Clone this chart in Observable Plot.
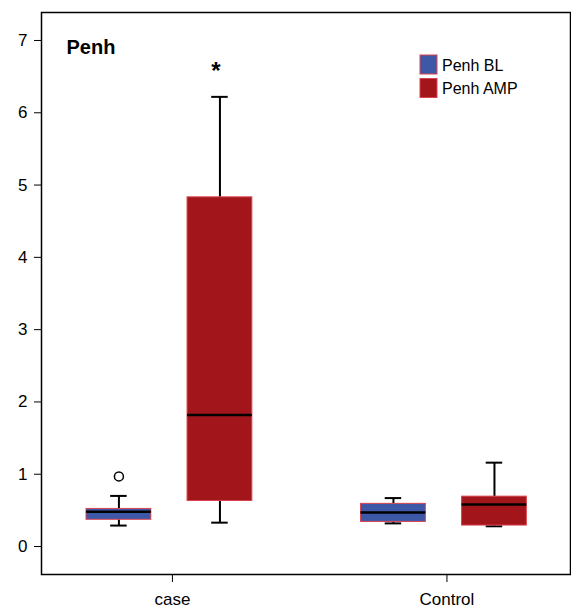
<!DOCTYPE html>
<html>
<head>
<meta charset="utf-8">
<script src="https://cdn.jsdelivr.net/npm/d3@7"></script>
<script src="https://cdn.jsdelivr.net/npm/@observablehq/plot@0.6"></script>
<style>
  body { margin: 0; background: #fff; }
  #chart { position: relative; width: 571px; height: 610px; }
</style>
</head>
<body>
<div id="chart"></div>
<script>
// ---- data ----
const groups = ["case", "Control"];
const series = ["Penh BL", "Penh AMP"];
const colors = ["#3e58a8", "#a2161b"];
// per group, per series: [whiskerLow, q1, median, q3, whiskerHigh]
const caseBL      = [0.29, 0.37, 0.48, 0.52, 0.70];
const caseAMP     = [0.33, 0.63, 1.82, 4.83, 6.22];
const controlBL   = [0.32, 0.34, 0.47, 0.59, 0.67];
const controlAMP  = [0.28, 0.29, 0.58, 0.69, 1.16];
const outliers = [{group: "case", series: "Penh BL", value: 0.97}];
const marks = [{group: "case", series: "Penh AMP", label: "*"}];
const yTicks = [0, 1, 2, 3, 4, 5, 6, 7];

const stats = [
  [caseBL, caseAMP],
  [controlBL, controlAMP]
];
const dodge = 0.368, halfW = 0.118, capW = 0.03;
const pos = (g, s) => groups.indexOf(g) + 1 + (series.indexOf(s) - 0.5) * dodge;

const rows = [];
groups.forEach((g, gi) => series.forEach((s, si) => {
  const [lo, q1, med, q3, hi] = stats[gi][si];
  rows.push({group: g, series: s, lo, q1, med, q3, hi, x: pos(g, s)});
}));

const plot = Plot.plot({
  width: 571,
  height: 610,
  marginTop: 12,
  marginBottom: 36,
  marginLeft: 41,
  marginRight: 1,
  style: {fontFamily: "Liberation Sans, Arial, sans-serif", background: "#fff", color: "#000"},
  x: {domain: [0.534, 2.461]},
  y: {domain: [-0.387, 7.387]},
  color: {domain: series, range: colors},
  marks: [
    // whiskers
    Plot.ruleX(rows, {x: "x", y1: "q3", y2: "hi", stroke: "#000", strokeWidth: 2}),
    Plot.ruleX(rows, {x: "x", y1: "lo", y2: "q1", stroke: "#000", strokeWidth: 2}),
    Plot.ruleY(rows, {y: "hi", x1: d => d.x - capW, x2: d => d.x + capW, stroke: "#000", strokeWidth: 2}),
    Plot.ruleY(rows, {y: "lo", x1: d => d.x - capW, x2: d => d.x + capW, stroke: "#000", strokeWidth: 2}),
    // boxes
    Plot.rect(rows, {x1: d => d.x - halfW, x2: d => d.x + halfW, y1: "q1", y2: "q3",
      fill: "series", stroke: "#d8434f", strokeWidth: 1}),
    // medians
    Plot.ruleY(rows, {y: "med", x1: d => d.x - halfW, x2: d => d.x + halfW, stroke: "#000", strokeWidth: 2.5}),
    // outliers
    Plot.dot(outliers, {x: d => pos(d.group, d.series), y: "value", r: 4.5, stroke: "#000", strokeWidth: 1.5, fill: "none"}),
    // significance mark
    Plot.text(marks, {x: d => pos(d.group, d.series), y: d => rows.find(r => r.group === d.group && r.series === d.series).hi,
      text: "label", dy: -26, dx: -4, fontSize: 24, fontWeight: "bold", fill: "#000"}),
    // axes
    Plot.axisY({ticks: yTicks, tickSize: 7, tickPadding: 7, fontSize: 17, label: null}),
    Plot.axisX({ticks: [1, 2], tickFormat: d => groups[d - 1], tickSize: 8, tickPadding: 10, fontSize: 17, dx: 3, label: null}),
    Plot.frame({stroke: "#000", strokeWidth: 1.5}),
    // title
    Plot.text(["Penh"], {frameAnchor: "top-left", dx: 25, dy: 27, fontSize: 20, fontWeight: "bold", fill: "#000"})
  ]
});

document.getElementById("chart").appendChild(plot);

// legend (added into the same svg)
const svg = d3.select(plot);
const lg = svg.append("g")
  .attr("font-family", "Liberation Sans, Arial, sans-serif")
  .attr("font-size", 16)
  .attr("text-anchor", "start");
series.forEach((s, i) => {
  const y0 = 55 + i * 23.5;
  lg.append("rect").attr("x", 420).attr("y", y0).attr("width", 17).attr("height", 19)
    .attr("fill", colors[i]).attr("stroke", "#d8434f").attr("stroke-width", 1);
  lg.append("text").attr("x", 442).attr("y", y0 + 15.5).attr("fill", "#000").text(s);
});
</script>
</body>
</html>
